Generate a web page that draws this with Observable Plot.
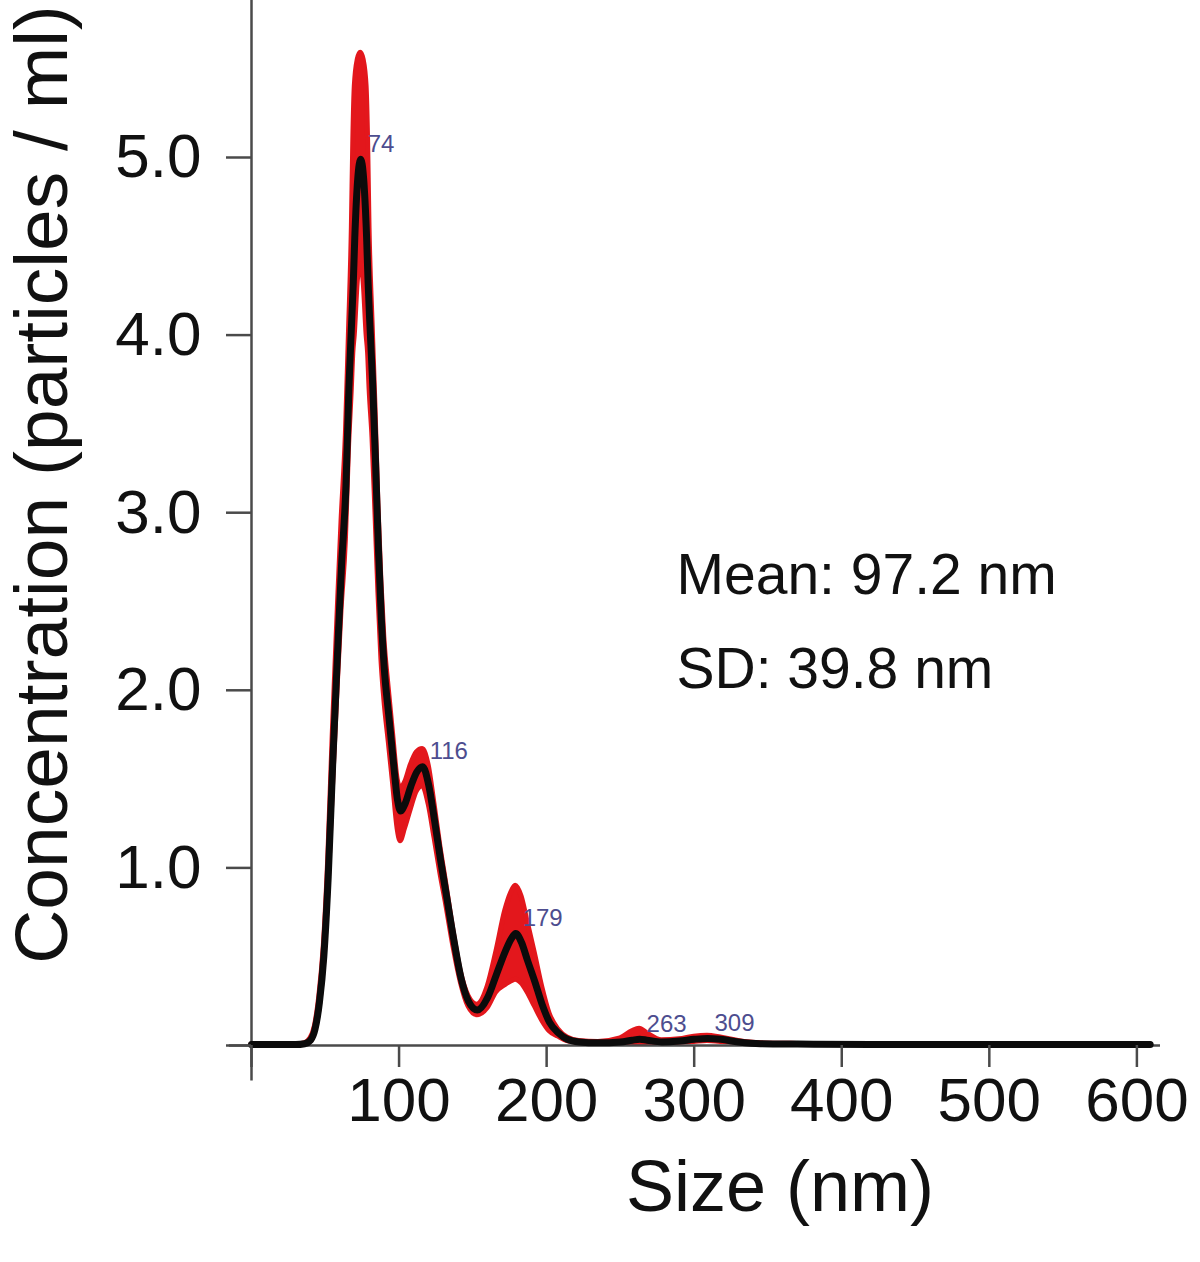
<!DOCTYPE html>
<html>
<head>
<meta charset="utf-8">
<script src="https://cdn.jsdelivr.net/npm/d3@7"></script>
<script src="https://cdn.jsdelivr.net/npm/@observablehq/plot@0.6"></script>
<style>
  html, body { margin: 0; padding: 0; background: #ffffff; }
  #chart { width: 1200px; height: 1262px; }
</style>
</head>
<body>
<div id="chart"></div>
<script>
// Particle size distribution (NTA): mean concentration with ±error band
const sizes     = [0, 30, 36, 40, 43, 46, 49, 52, 55, 58, 61, 64, 66, 68, 69, 70, 72, 74, 76, 78, 79, 80, 82, 84, 86, 88, 90, 93, 96, 99, 101, 104, 108, 112, 116, 120, 124, 128, 132, 137, 142, 147, 153, 160, 166, 172, 176, 179, 183, 187, 192, 197, 202, 208, 214, 222, 235, 250, 258, 263, 268, 278, 290, 300, 309, 318, 330, 345, 370, 420, 480, 540, 609];
const meanConc  = [0.005, 0.005, 0.01, 0.03, 0.09, 0.24, 0.5, 0.95, 1.58, 2.15, 2.7, 3.15, 3.7, 4.1, 4.3, 4.55, 4.88, 4.99, 4.88, 4.55, 4.3, 4.1, 3.75, 3.3, 2.8, 2.4, 2.12, 1.86, 1.61, 1.38, 1.32, 1.36, 1.46, 1.54, 1.57, 1.47, 1.27, 1.05, 0.85, 0.6, 0.38, 0.25, 0.2, 0.27, 0.4, 0.53, 0.6, 0.63, 0.58, 0.48, 0.36, 0.23, 0.13, 0.07, 0.035, 0.02, 0.015, 0.02, 0.03, 0.035, 0.03, 0.02, 0.025, 0.035, 0.04, 0.035, 0.02, 0.01, 0.008, 0.006, 0.005, 0.005, 0.005];
const upperConc = [0.005, 0.005, 0.012, 0.04, 0.11, 0.28, 0.56, 1.05, 1.74, 2.36, 2.95, 3.45, 4.0, 4.6, 5.1, 5.4, 5.55, 5.59, 5.55, 5.4, 5.1, 4.6, 4.08, 3.6, 3.05, 2.62, 2.3, 2.01, 1.75, 1.5, 1.45, 1.48, 1.58, 1.65, 1.67, 1.58, 1.36, 1.12, 0.91, 0.64, 0.41, 0.28, 0.23, 0.33, 0.53, 0.76, 0.86, 0.9, 0.84, 0.7, 0.52, 0.33, 0.18, 0.09, 0.045, 0.025, 0.02, 0.04, 0.08, 0.095, 0.07, 0.03, 0.035, 0.05, 0.055, 0.045, 0.025, 0.012, 0.009, 0.007, 0.006, 0.006, 0.006];
const lowerConc = [0.005, 0.005, 0.008, 0.02, 0.07, 0.2, 0.44, 0.85, 1.42, 1.95, 2.45, 2.85, 3.35, 3.7, 3.9, 4.0, 4.3, 4.4, 4.3, 4.0, 3.9, 3.7, 3.42, 3.0, 2.55, 2.18, 1.95, 1.71, 1.47, 1.22, 1.15, 1.22, 1.33, 1.43, 1.46, 1.36, 1.17, 0.97, 0.79, 0.55, 0.35, 0.22, 0.17, 0.21, 0.3, 0.34, 0.36, 0.37, 0.35, 0.3, 0.22, 0.14, 0.08, 0.05, 0.025, 0.015, 0.01, 0.01, 0.01, 0.01, 0.01, 0.01, 0.015, 0.02, 0.025, 0.02, 0.015, 0.008, 0.007, 0.005, 0.004, 0.004, 0.004];

const peakSizes  = [74, 116, 179, 263, 309];
const peakConc   = [4.99, 1.57, 0.63, 0.035, 0.04];
const peakLabels = ["74", "116", "179", "263", "309"];

const xTicks = [0, 100, 200, 300, 400, 500, 600];
const yTicks = [0, 1, 2, 3, 4, 5];
const statsText = ["Mean: 97.2 nm", "SD: 39.8 nm"];
const xTitle = "Size (nm)";
const yTitle = "Concentration (particles / ml)";

const rows = sizes.map((s, i) => ({size: s, mean: meanConc[i], upper: upperConc[i], lower: lowerConc[i]}));
const peaks = peakSizes.map((s, i) => ({size: s, conc: peakConc[i], label: peakLabels[i]}));

const font = "'Liberation Sans', Arial, Helvetica, sans-serif";
const axisColor = "#4a4a4a";

const chart = Plot.plot({
  width: 1200,
  height: 1262,
  marginLeft: 251,
  marginRight: 40,
  marginTop: 0,
  marginBottom: 217,
  x: {domain: [0, 616]},
  y: {domain: [0, 5.884]},
  style: {fontFamily: font, background: "#ffffff", color: "#111"},
  marks: [
    Plot.areaY(rows, {x: "size", y1: "lower", y2: "upper", fill: "#e3171c", stroke: "#e3171c", strokeWidth: 5, strokeLinejoin: "round", curve: "monotone-x"}),
    Plot.ruleX([0], {y1: -0.2, y2: 5.884, stroke: axisColor, strokeWidth: 2.5}),
    Plot.ruleY([0], {x1: -15, x2: 616, stroke: axisColor, strokeWidth: 2.5}),
    Plot.lineY(rows, {x: "size", y: "mean", stroke: "#0b0b0b", strokeWidth: 7, strokeLinejoin: "round", curve: "monotone-x"}),
    Plot.axisY(yTicks, {anchor: "left", tickSize: 25, tickPadding: 25, fontSize: 62, stroke: axisColor, strokeWidth: 2.5, fill: "#111", label: null, tickFormat: d => d === 0 ? "" : d.toFixed(1)}),
    Plot.axisX(xTicks, {anchor: "bottom", tickSize: 22, tickPadding: 9, fontSize: 62, stroke: axisColor, strokeWidth: 2.5, fill: "#111", label: null, tickFormat: d => d === 0 ? "" : String(d)}),
    Plot.text(peaks, {x: "size", y: "conc", text: "label", textAnchor: "start", dx: 7, dy: -15, fontSize: 24, fill: "#4d4d8f"}),
    Plot.text([statsText.join("\n")], {frameAnchor: "top-left", dx: 425, dy: 610, textAnchor: "start", lineAnchor: "middle", lineHeight: 1.65, fontSize: 57, fill: "#111"}),
    Plot.text([xTitle], {frameAnchor: "bottom", textAnchor: "middle", lineAnchor: "middle", dx: 74, dy: 142, fontSize: 72, fill: "#111"}),
    Plot.text([yTitle], {frameAnchor: "top-left", textAnchor: "middle", lineAnchor: "middle", rotate: -90, dx: -209, dy: 484, fontSize: 75, fill: "#111"})
  ]
});

document.getElementById("chart").appendChild(chart);
</script>
</body>
</html>
